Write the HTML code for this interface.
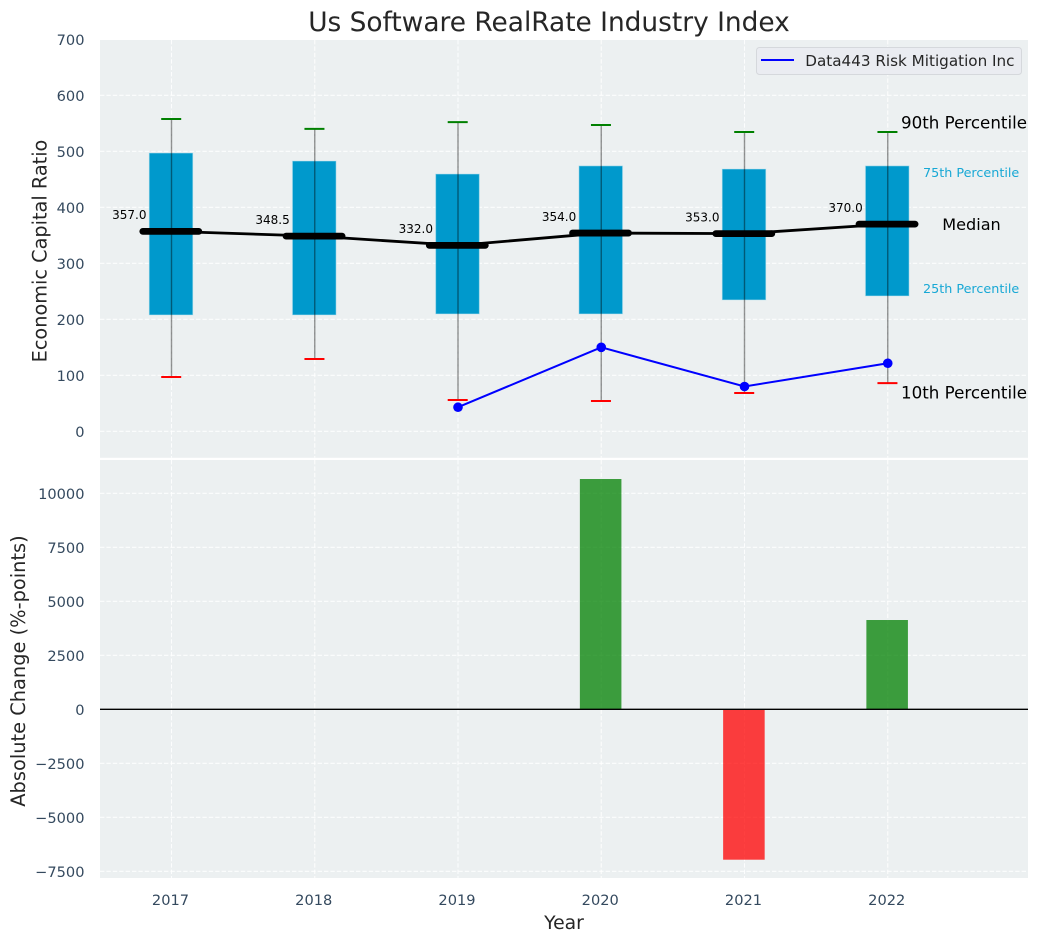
<!DOCTYPE html>
<html lang="en">
<head>
<meta charset="utf-8">
<title>Us Software RealRate Industry Index</title>
<style>
  html, body { margin: 0; padding: 0; background: #ffffff; }
  svg { display: block; }
  text { font-family: "DejaVu Sans", "Liberation Sans", sans-serif; }
</style>
</head>
<body>
<svg id="chart" xmlns="http://www.w3.org/2000/svg" width="1039" height="942" viewBox="0 0 1039 942">
  <rect x="100" y="40" width="928" height="417.8" fill="#ecf0f1"/>
  <rect x="100" y="460" width="928" height="418" fill="#ecf0f1"/>
  <g id="grid"></g>
  <g id="bottom-marks"></g>
  <g id="top-marks"></g>
  <g id="tick-labels"></g>

  <text x="549" y="31" font-size="26.4" fill="#262626" text-anchor="middle">Us Software RealRate Industry Index</text>
  <text transform="translate(46.7 251) rotate(-90)" font-size="19.3" fill="#262626" text-anchor="middle">Economic Capital Ratio</text>
  <text transform="translate(25 671) rotate(-90)" font-size="19.4" fill="#262626" text-anchor="middle">Absolute Change (%-points)</text>
  <text x="564" y="929" font-size="18.8" fill="#262626" text-anchor="middle">Year</text>

  <text x="901" y="128.3" font-size="16.7" fill="#000000">90th Percentile</text>
  <text x="923" y="177" font-size="12.75" fill="#00a0d2" fill-opacity="0.9">75th Percentile</text>
  <text x="971.5" y="230" font-size="16.1" fill="#000000" text-anchor="middle">Median</text>
  <text x="923" y="293" font-size="12.75" fill="#00a0d2" fill-opacity="0.9">25th Percentile</text>
  <text x="901" y="398.3" font-size="16.7" fill="#000000">10th Percentile</text>

  <g>
    <rect x="756.5" y="47.5" width="265" height="27" rx="3" ry="3" fill="#eaecf1" stroke="#d5d8dc" stroke-width="1"/>
    <line x1="761" y1="60" x2="794" y2="60" stroke="#0000ff" stroke-width="2"/>
    <text x="805.3" y="66" font-size="15.2" fill="#262626">Data443 Risk Mitigation Inc</text>
  </g>
</svg>
<script>
const years = [2017, 2018, 2019, 2020, 2021, 2022];
const p90 = [557.7, 540, 552, 547, 534.5, 534.5];
const p75 = [497, 482.7, 459.5, 474, 468.4, 474];
const medians = [357, 348.5, 332, 354, 353, 370];
const p25 = [207.7, 207.7, 209.5, 209.5, 234.5, 241.6];
const p10 = [97, 129, 56, 54, 68.4, 86];
const companyValues = [null, null, 43, 150, 80, 121.5];
const absoluteChanges = [null, null, null, 10662, -6963, 4134];
const topTicks = [0, 100, 200, 300, 400, 500, 600, 700];
const bottomTicks = [-7500, -5000, -2500, 0, 2500, 5000, 7500, 10000];

const NS = 'http://www.w3.org/2000/svg';
const xScale = function (year) { return 171.5 + (year - 2017) * 143.25; };
const yTop = function (v) { return 431.3 - v * 0.56; };
const yBottom = function (v) { return 709.3 - v * 0.0216; };
const BOX_W = 0.305 * 143.25;
const BAR_W = 0.29 * 143.25;
const TICK_SIZE = 14.6;

function make(tag, parent, attrs, content) {
  const el = document.createElementNS(NS, tag);
  for (const k in attrs) { el.setAttribute(k, attrs[k]); }
  if (content !== undefined) { el.textContent = content; }
  parent.appendChild(el);
  return el;
}

const gridG = document.getElementById('grid');
const topG = document.getElementById('top-marks');
const botG = document.getElementById('bottom-marks');
const tickG = document.getElementById('tick-labels');
const gridStyle = { stroke: '#ffffff', 'stroke-width': 1.1, 'stroke-dasharray': '4.4 2', 'stroke-opacity': 0.85 };

topTicks.forEach(function (t) {
  const y = yTop(t);
  if (y >= 40) {
    const line = make('line', gridG, Object.assign({ x1: 100, x2: 1028, y1: y, y2: y }, gridStyle));
    
    
  }
  const label = make('text', tickG, { x: 84.5, y: y + 5.6, 'font-size': TICK_SIZE, fill: '#34495e', 'text-anchor': 'end' }, String(t));
  
  
});

bottomTicks.forEach(function (t) {
  const y = yBottom(t);
  const line = make('line', gridG, Object.assign({ x1: 100, x2: 1028, y1: y, y2: y }, gridStyle));
  
  
  const text = t < 0 ? '\u2212' + Math.abs(t) : String(t);
  const label = make('text', tickG, { x: 84.5, y: y + 5.6, 'font-size': TICK_SIZE, fill: '#34495e', 'text-anchor': 'end' }, text);
  
  
});

years.forEach(function (yr) {
  const x = xScale(yr);
  const upper = make('line', gridG, Object.assign({ x1: x, x2: x, y1: 40, y2: 457.8 }, gridStyle));
  
  
  const lower = make('line', gridG, Object.assign({ x1: x, x2: x, y1: 460, y2: 878 }, gridStyle));
  
  
  const label = make('text', tickG, { x: x - 1, y: 905, 'font-size': TICK_SIZE, fill: '#34495e', 'text-anchor': 'middle' }, String(yr));
  
  
});

years.forEach(function (yr, i) {
  const x = xScale(yr);
  const box = make('rect', topG, {
    x: x - 0.5 - BOX_W / 2, y: yTop(p75[i]), width: BOX_W, height: yTop(p25[i]) - yTop(p75[i]),
    fill: '#0099cc', stroke: '#bfe3ef', 'stroke-opacity': 0.55, 'stroke-width': 1
  });
  
  
  const whisker = make('line', topG, { x1: x, x2: x, y1: yTop(p90[i]), y2: yTop(p10[i]), stroke: '#000000', 'stroke-opacity': 0.42, 'stroke-width': 1.4 });
  
  
  const capHigh = make('line', topG, { x1: x - 10.3, x2: x + 9.7, y1: yTop(p90[i]), y2: yTop(p90[i]), stroke: '#008000', 'stroke-width': 2 });
  
  
  const capLow = make('line', topG, { x1: x - 10.3, x2: x + 9.7, y1: yTop(p10[i]), y2: yTop(p10[i]), stroke: '#ff0000', 'stroke-width': 2 });
  
  
});

const medianTrend = make('polyline', topG, {
  points: years.map(function (yr, i) { return xScale(yr) + ',' + yTop(medians[i]); }).join(' '),
  fill: 'none', stroke: '#000000', 'stroke-width': 2.8, 'stroke-linejoin': 'round'
});



years.forEach(function (yr, i) {
  const x = xScale(yr);
  const med = make('line', topG, { x1: x - 28.7, x2: x + 27.3, y1: yTop(medians[i]), y2: yTop(medians[i]), stroke: '#000000', 'stroke-width': 6.8, 'stroke-linecap': 'round' });
  
  
  const val = make('text', topG, { x: x - 25, y: yTop(medians[i]) - 12.3, 'font-size': 12, fill: '#000000', 'text-anchor': 'end' }, medians[i].toFixed(1));
  
  
});

const companyPoints = years.map(function (yr, i) { return companyValues[i] === null ? null : [xScale(yr), yTop(companyValues[i])]; }).filter(Boolean);
const companyLine = make('polyline', topG, {
  points: companyPoints.map(function (p) { return p.join(','); }).join(' '),
  fill: 'none', stroke: '#0000ff', 'stroke-width': 2
});


years.forEach(function (yr, i) {
  if (companyValues[i] === null) { return; }
  const dot = make('circle', topG, { cx: xScale(yr), cy: yTop(companyValues[i]), r: 4.8, fill: '#0000ff' });
  
  
});

years.forEach(function (yr, i) {
  if (absoluteChanges[i] === null) { return; }
  const v = absoluteChanges[i];
  const bar = make('rect', botG, {
    x: xScale(yr) - 0.6 - BAR_W / 2, y: Math.min(yBottom(0), yBottom(v)), width: BAR_W,
    height: Math.abs(yBottom(v) - yBottom(0)),
    fill: v >= 0 ? '#008000' : '#ff0000', 'fill-opacity': 0.75
  });
  
  
});
const zeroLine = make('line', botG, { x1: 100, x2: 1028, y1: yBottom(0), y2: yBottom(0), stroke: '#000000', 'stroke-width': 1.3 });


</script>
</body>
</html>
